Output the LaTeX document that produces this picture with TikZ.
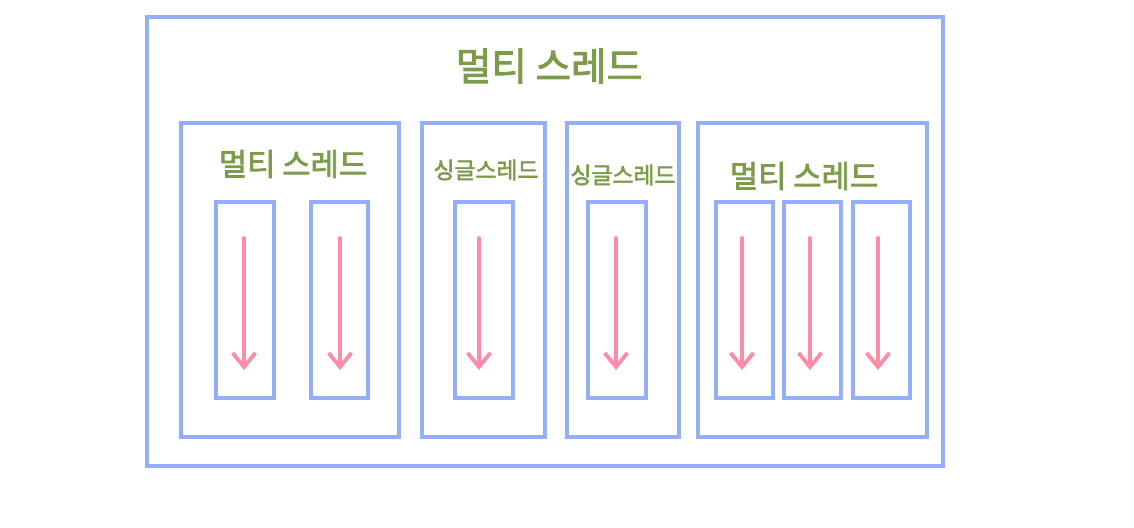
\documentclass[tikz,border=0pt]{standalone}
\usepackage{fontspec}
\newfontfamily\kr{Noto Sans CJK KR}[FakeBold=2.5]
\usetikzlibrary{arrows.meta}
\definecolor{boxblue}{HTML}{94AEF8}
\definecolor{labelgreen}{HTML}{7C9C4C}
\definecolor{arrowpink}{HTML}{FF8BA9}
\begin{document}
\begin{tikzpicture}[x=0.02cm, y=-0.02cm,
        box/.style={draw=boxblue, line width=2.2pt},
        label/.style={text=labelgreen, font=\kr},
        flow/.style={draw=arrowpink, line width=2.2pt, line cap=round, -{Straight Barb[length=8pt, width=13pt, line width=2.2pt]}}]
        \useasboundingbox (0,0) rectangle (1134,528);

        % Processo esterno
        \draw[box] (147,17) rectangle (943,466);
        \node[label, font=\kr\fontsize{22}{26}\selectfont] (titolo) at (549,66) {멀티 스레드};

        % Processi interni
        \draw[box] (181,123) rectangle (399,437);
        \draw[box] (422,123) rectangle (545,437);
        \draw[box] (567,123) rectangle (679,437);
        \draw[box] (698,123) rectangle (927,437);

        \node[label, font=\kr\fontsize{17.5}{21}\selectfont] (multi1) at (293,164) {멀티 스레드};
        \node[label, font=\kr\fontsize{13}{16}\selectfont] (single1) at (486,170) {싱글스레드};
        \node[label, font=\kr\fontsize{13}{16}\selectfont] (single2) at (623,175) {싱글스레드};
        \node[label, font=\kr\fontsize{17.5}{21}\selectfont] (multi2) at (804,176) {멀티 스레드};

        % Thread: rettangolo e freccia
        \foreach \l/\r/\a/\i in {216/274/244/1, 311/368/340/2, 455/513/479/3, 588/646/616/4,
                                 716/773/742/5, 784/841/810/6, 853/910/878/7} {
            \draw[box] (\l,202) rectangle (\r,398);
            \coordinate (s\i) at (\a,238);
            \coordinate (e\i) at (\a,370);
            \draw[flow] (s\i) -- (e\i);
        }
    \end{tikzpicture}
\end{document}
